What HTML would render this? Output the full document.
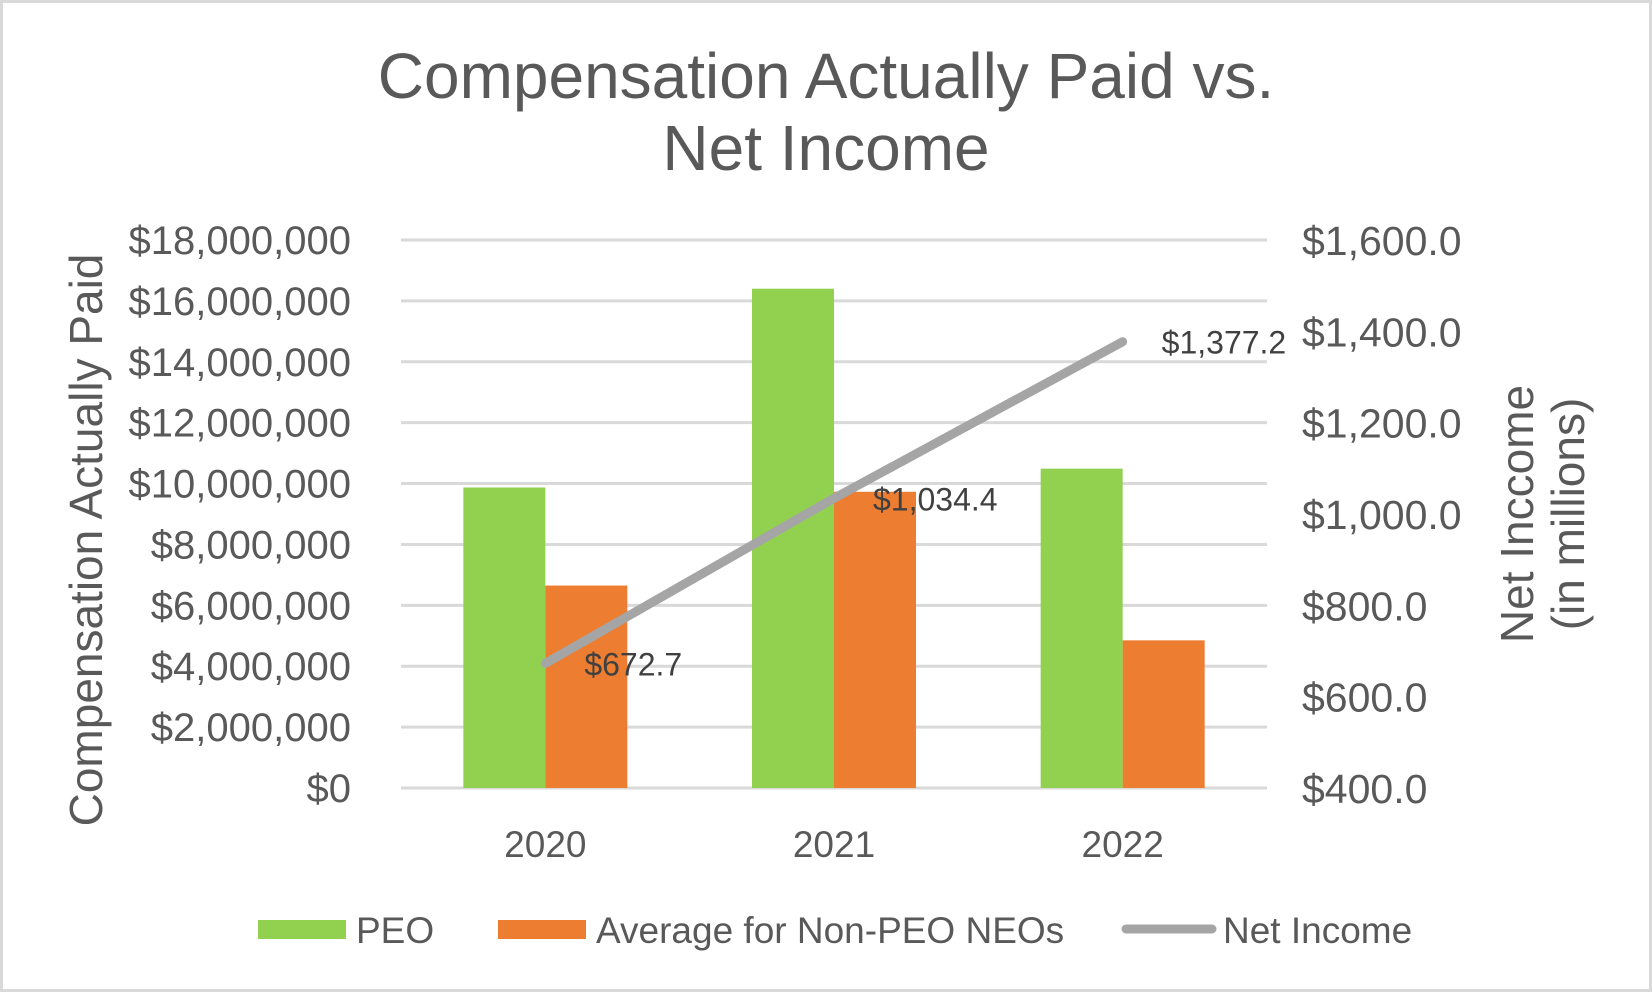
<!DOCTYPE html>
<html><head><meta charset="utf-8"><style>
html,body{margin:0;padding:0;background:#fff}
svg{display:block;font-family:"Liberation Sans",Arial,sans-serif}
</style></head><body>
<svg id="chart" width="1652" height="992" viewBox="0 0 1652 992" xmlns="http://www.w3.org/2000/svg">
<rect x="1.5" y="1.5" width="1649" height="989" fill="#fff" stroke="#d9d9d9" stroke-width="3"/>
<text x="826" y="98" font-size="64" fill="#595959" text-anchor="middle">Compensation Actually Paid vs.</text>
<text x="826" y="170" font-size="64" fill="#595959" text-anchor="middle">Net Income</text>
<g id="grid"></g><g id="bars"></g><g id="line"></g><g id="labels"></g>
<text transform="translate(102,540) rotate(-90)" font-size="46" fill="#595959" text-anchor="middle">Compensation Actually Paid</text>
<text transform="translate(1533,514) rotate(-90)" font-size="46" fill="#595959" text-anchor="middle">Net Inccome</text>
<text transform="translate(1584,514) rotate(-90)" font-size="46" fill="#595959" text-anchor="middle">(in millions)</text>
<g>
<rect x="258" y="920" width="88" height="19" fill="#92d050"/>
<text x="356" y="943" font-size="37" fill="#595959">PEO</text>
<rect x="498" y="920" width="88" height="19" fill="#ed7d31"/>
<text x="596" y="943" font-size="37" fill="#595959">Average for Non-PEO NEOs</text>
<line x1="1126" y1="929" x2="1212" y2="929" stroke="#a5a5a5" stroke-width="9" stroke-linecap="round"/>
<text x="1223" y="943" font-size="37" fill="#595959">Net Income</text>
</g>
</svg>
<script>
const categories = ["2020", "2021", "2022"];
const peoValues = [9870000, 16400000, 10490000];
const neoValues = [6650000, 9730000, 4850000];
const netIncome = [672.7, 1034.4, 1377.2];
const netIncomeLabels = ["$672.7", "$1,034.4", "$1,377.2"];
const leftTicks = [0, 2000000, 4000000, 6000000, 8000000, 10000000, 12000000, 14000000, 16000000, 18000000];
const rightTicks = [400, 600, 800, 1000, 1200, 1400, 1600];

const NS = "http://www.w3.org/2000/svg";
const X0 = 401, X1 = 1267, Y0 = 788, YT = 240;
const yL = v => Y0 - (v / 18000000) * (Y0 - YT);
const yR = v => Y0 - ((v - 400) / 1200) * (Y0 - YT);
const bandW = (X1 - X0) / categories.length;
const xC = i => X0 + bandW * (i + 0.5);
const barW = 82;
function mk(tag, attrs, parent, txt) {
  const e = document.createElementNS(NS, tag);
  for (const k in attrs) e.setAttribute(k, attrs[k]);
  if (txt !== undefined) e.textContent = txt;
  parent.appendChild(e);
  return e;
}
const grid = document.getElementById('grid');
leftTicks.forEach(t => {
  const g = mk('line', {x1: X0, x2: X1, y1: yL(t), y2: yL(t), stroke: '#d9d9d9', 'stroke-width': 3}, grid);
  
  
  const s = '$' + t.toLocaleString('en-US');
  const l = mk('text', {x: 351, y: yL(t) + 14, 'font-size': 40, fill: '#595959', 'text-anchor': 'end'}, grid, s);
  
  
});
rightTicks.forEach(t => {
  const l = mk('text', {x: 1302, y: yR(t) + 15, 'font-size': 41, fill: '#595959'}, grid, '$' + t.toLocaleString('en-US', {minimumFractionDigits: 1}));
  
  
});
const bars = document.getElementById('bars');
categories.forEach((c, i) => {
  const b1 = mk('rect', {x: xC(i) - barW, y: yL(peoValues[i]), width: barW, height: Y0 - yL(peoValues[i]), fill: '#92d050'}, bars);
  
  
  const b2 = mk('rect', {x: xC(i), y: yL(neoValues[i]), width: barW, height: Y0 - yL(neoValues[i]), fill: '#ed7d31'}, bars);
  
  
  const t = mk('text', {x: xC(i), y: 857, 'font-size': 37, fill: '#595959', 'text-anchor': 'middle'}, bars, c);
  
  
});
const pts = netIncome.map((v, i) => xC(i) + ',' + yR(v)).join(' ');
const pl = mk('polyline', {points: pts, fill: 'none', stroke: '#a5a5a5', 'stroke-width': 9, 'stroke-linecap': 'round', 'stroke-linejoin': 'round'}, document.getElementById('line'));


const labs = document.getElementById('labels');
netIncome.forEach((v, i) => {
  const t = mk('text', {x: xC(i) + 39, y: yR(v) + 12, 'font-size': 32, fill: '#404040'}, labs, netIncomeLabels[i]);
  
  
});
</script>
</body></html>
